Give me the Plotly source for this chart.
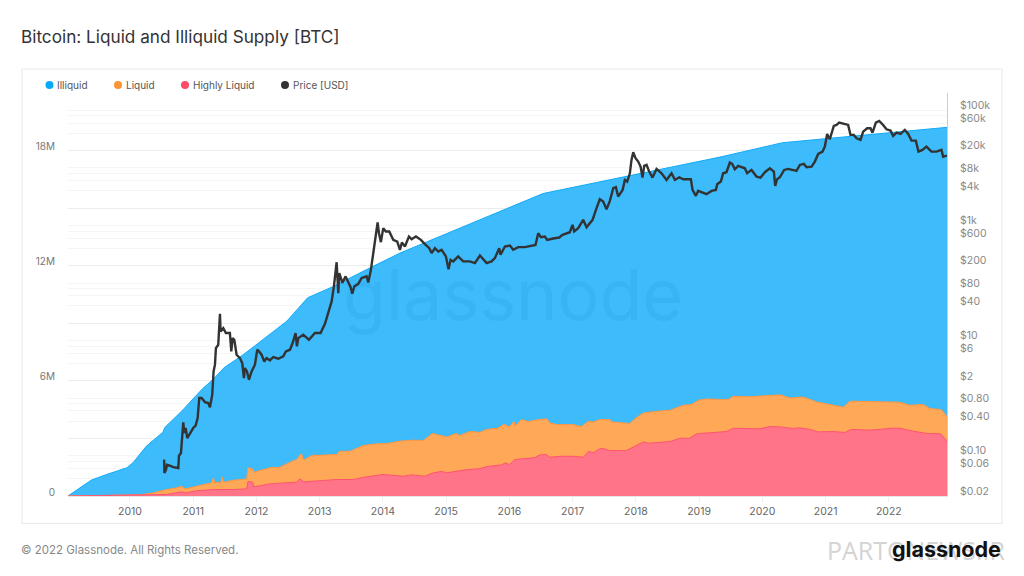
import numpy as np
import plotly.graph_objects as go

# levels on the left axis in millions of BTC, x in decimal years
illiquid_years = [2009.02, 2009.39, 2009.63, 2009.95, 2010.05, 2010.26, 2010.52, 2010.55, 2010.82, 2011.15, 2011.31,
                  2011.49, 2011.79, 2012.48, 2012.81, 2013.21, 2013.79, 2014.27, 2016.53, 2019.33, 2020.32, 2021.34, 2022.92]
illiquid_level = [0, 0.83, 1.12, 1.47, 1.74, 2.60, 3.32, 3.57, 4.43, 5.6, 6.06,
                  6.69, 7.36, 9.11, 10.33, 10.91, 11.88, 12.66, 15.76, 17.66, 18.41, 18.71, 19.21]

liquid_years = [2009.02, 2009.84, 2010.16, 2010.37, 2010.58, 2010.74, 2010.82, 2010.87, 2011.05, 2011.29, 2011.32, 2011.34,
                2011.44, 2011.455, 2011.48, 2011.63, 2011.845, 2011.866, 2011.94, 2011.96, 2012.21, 2012.37, 2012.53,
                2012.635, 2012.71, 2012.75, 2012.87, 2013.06, 2013.27, 2013.31, 2013.48, 2013.69, 2013.9, 2014.06, 2014.27,
                2014.48, 2014.64, 2014.78, 2014.93, 2015.01, 2015.165, 2015.21, 2015.375, 2015.53, 2015.65, 2015.82, 2015.91,
                2016.0, 2016.07, 2016.09, 2016.19, 2016.3, 2016.46, 2016.59, 2016.64, 2016.75, 2017.01, 2017.14, 2017.25,
                2017.325, 2017.43, 2017.59, 2017.615, 2017.905, 2018.0, 2018.12, 2018.35, 2018.54, 2018.75, 2018.88, 2018.99,
                2019.12, 2019.33, 2019.46, 2019.54, 2019.8, 2020.07, 2020.28, 2020.435, 2020.645, 2020.86, 2021.07, 2021.28,
                2021.385, 2021.75, 2022.17, 2022.33, 2022.54, 2022.65, 2022.83, 2022.9, 2022.92]
liquid_level = [0, 0.03, 0.06, 0.165, 0.34, 0.43, 0.51, 0.37, 0.51, 0.69, 0.95, 0.69,
                0.72, 1.0, 0.72, 0.82, 0.89, 1.47, 1.41, 1.24, 1.47, 1.5, 1.76,
                1.9, 2.21, 1.87, 2.11, 2.13, 2.16, 2.33, 2.33, 2.63, 2.72, 2.73, 2.86,
                2.91, 2.89, 3.26, 3.15, 3.08, 3.26, 3.15, 3.36, 3.32, 3.48, 3.53, 3.74,
                3.6, 3.9, 3.64, 3.98, 3.88, 3.98, 4.02, 3.81, 3.72, 3.72, 3.62, 3.9,
                3.85, 3.98, 3.98, 3.86, 3.78, 4.07, 4.33, 4.42, 4.47, 4.73, 4.77, 4.99,
                5.06, 5.03, 5.03, 5.2, 5.17, 5.23, 5.27, 5.11, 5.16, 4.9, 4.77, 4.63,
                4.94, 4.9, 4.89, 4.73, 4.77, 4.56, 4.5, 4.24, 4.1]

highly_years = [2009.02, 2010.37, 2010.58, 2010.82, 2010.87, 2011.05, 2011.32, 2011.63, 2011.845, 2011.866, 2011.94, 2011.96,
                2012.21, 2012.48, 2012.635, 2012.68, 2012.75, 2013.06, 2013.27, 2013.53, 2013.74, 2014.0, 2014.32, 2014.45,
                2014.66, 2014.8, 2014.93, 2015.01, 2015.27, 2015.53, 2015.67, 2015.88, 2015.93, 2016.0, 2016.09, 2016.4,
                2016.48, 2016.58, 2016.64, 2016.8, 2017.01, 2017.17, 2017.25, 2017.325, 2017.43, 2017.48, 2017.59, 2017.85,
                2017.96, 2018.12, 2018.2, 2018.54, 2018.7, 2018.85, 2018.96, 2019.33, 2019.43, 2019.54, 2019.96, 2020.12,
                2020.28, 2020.49, 2020.59, 2020.75, 2020.88, 2021.12, 2021.305, 2021.41, 2021.7, 2022.04, 2022.17, 2022.385,
                2022.6, 2022.82, 2022.9, 2022.92]
highly_level = [0, 0.04, 0.08, 0.22, 0.16, 0.27, 0.34, 0.34, 0.37, 0.75, 0.72, 0.48,
                0.63, 0.69, 0.72, 0.89, 0.74, 0.81, 0.86, 0.86, 1.0, 1.12, 1.03, 1.10,
                1.03, 1.21, 1.28, 1.21, 1.35, 1.43, 1.55, 1.62, 1.73, 1.64, 1.9, 2.0,
                2.14, 2.16, 2.02, 2.07, 2.07, 2.02, 2.33, 2.25, 2.46, 2.47, 2.37, 2.37,
                2.54, 2.82, 2.75, 2.84, 3.01, 3.01, 3.24, 3.36, 3.36, 3.53, 3.5, 3.62,
                3.6, 3.52, 3.55, 3.47, 3.34, 3.36, 3.31, 3.47, 3.43, 3.53, 3.53, 3.38,
                3.26, 3.24, 2.94, 2.8]

price_years = [2010.54, 2010.545, 2010.57, 2010.585, 2010.63, 2010.685, 2010.764, 2010.775, 2010.806, 2010.827, 2010.843,
               2010.859, 2010.88, 2010.906, 2010.943, 2011.0, 2011.038, 2011.07, 2011.096, 2011.133, 2011.186, 2011.238,
               2011.265, 2011.301, 2011.322, 2011.344, 2011.359, 2011.396, 2011.423, 2011.433, 2011.475, 2011.517, 2011.58,
               2011.602, 2011.623, 2011.65, 2011.686, 2011.739, 2011.776, 2011.802, 2011.818, 2011.85, 2011.881, 2011.923,
               2011.976, 2012.013, 2012.04, 2012.081, 2012.124, 2012.16, 2012.213, 2012.266, 2012.345, 2012.424, 2012.466,
               2012.53, 2012.572, 2012.619, 2012.64, 2012.661, 2012.74, 2012.83, 2012.925, 2013.014, 2013.083, 2013.11,
               2013.189, 2013.225, 2013.268, 2013.294, 2013.31, 2013.336, 2013.357, 2013.41, 2013.452, 2013.489, 2013.515,
               2013.547, 2013.61, 2013.663, 2013.742, 2013.768, 2013.81, 2013.847, 2013.884, 2013.916, 2013.937, 2013.968,
               2014.005, 2014.047, 2014.1, 2014.163, 2014.227, 2014.269, 2014.3, 2014.348, 2014.411, 2014.453, 2014.522,
               2014.6, 2014.664, 2014.733, 2014.77, 2014.822, 2014.875, 2014.928, 2014.996, 2015.038, 2015.07, 2015.112,
               2015.19, 2015.27, 2015.376, 2015.455, 2015.534, 2015.64, 2015.718, 2015.77, 2015.839, 2015.86, 2015.929,
               2016.008, 2016.06, 2016.14, 2016.245, 2016.377, 2016.413, 2016.456, 2016.498, 2016.561, 2016.598, 2016.693,
               2016.788, 2016.84, 2016.956, 2016.998, 2017.025, 2017.088, 2017.167, 2017.22, 2017.315, 2017.378, 2017.43,
               2017.483, 2017.536, 2017.589, 2017.642, 2017.684, 2017.72, 2017.79, 2017.826, 2017.863, 2017.905, 2017.931,
               2017.958, 2017.995, 2018.037, 2018.074, 2018.105, 2018.132, 2018.169, 2018.211, 2018.263, 2018.327, 2018.406,
               2018.485, 2018.564, 2018.617, 2018.685, 2018.748, 2018.87, 2018.896, 2018.949, 2018.985, 2019.065, 2019.117,
               2019.196, 2019.265, 2019.286, 2019.344, 2019.38, 2019.433, 2019.486, 2019.523, 2019.565, 2019.618, 2019.723,
               2019.76, 2019.829, 2019.908, 2019.971, 2020.04, 2020.119, 2020.182, 2020.203, 2020.234, 2020.277, 2020.345,
               2020.409, 2020.54, 2020.593, 2020.656, 2020.699, 2020.778, 2020.83, 2020.883, 2020.952, 2020.988, 2021.025,
               2021.067, 2021.13, 2021.173, 2021.215, 2021.278, 2021.357, 2021.394, 2021.447, 2021.489, 2021.552, 2021.594,
               2021.658, 2021.71, 2021.742, 2021.795, 2021.848, 2021.91, 2021.963, 2022.027, 2022.069, 2022.122, 2022.185,
               2022.253, 2022.306, 2022.359, 2022.427, 2022.469, 2022.532, 2022.595, 2022.674, 2022.753, 2022.832, 2022.859,
               2022.92]
price_usd = [0.070, 0.041, 0.047, 0.057, 0.055, 0.052, 0.050, 0.082, 0.091, 0.156, 0.311,
             0.203, 0.248, 0.166, 0.195, 0.248, 0.273, 0.371, 0.824, 0.824, 0.70, 0.674,
             0.568, 0.94, 2.39, 3.13, 6.08, 6.95, 24.0, 11.8, 13.5, 11.1, 11.1,
             5.32, 9.06, 8.49, 4.66, 4.07, 3.33, 1.83, 2.74, 2.39, 1.71, 2.39,
             3.13, 5.69, 5.32, 4.66, 3.56, 4.07, 3.72, 4.25, 3.97, 4.36, 5.32,
             5.69, 7.43, 11.1, 6.5, 9.06, 10.4, 8.49, 11.1, 11.1, 16.1, 20.2,
             39.4, 71.6, 189, 54.8, 122, 100, 82, 107, 87.5, 69.7, 53.4,
             71.6, 79.6, 100, 107, 84, 139, 272, 604, 925, 604, 422,
             738, 646, 646, 462, 432, 310, 416, 355, 528, 475, 528,
             462, 389, 331, 272, 331, 290, 310, 238, 143, 208, 195,
             238, 195, 195, 182, 247, 182, 195, 222, 331, 254, 354,
             368, 310, 345, 345, 364, 378, 604, 514, 528, 462, 488,
             507, 565, 628, 841, 646, 736, 1028, 767, 1028, 1641, 2350,
             2140, 1574, 2200, 3650, 3800, 2610, 3410, 5090, 4770, 6640, 11300,
             15400, 12100, 10600, 8660, 5580, 8900, 9270, 7100, 5580, 7900, 6640,
             5090, 6640, 5090, 5660, 5220, 5220, 3410, 2690, 3280, 2990, 2870,
             3280, 3410, 4280, 4770, 6640, 6920, 10200, 9640, 7800, 8900, 8110,
             6640, 7590, 5810, 5580, 6920, 8110, 7100, 4000, 5220, 5660, 7590,
             7900, 7300, 9270, 9660, 8450, 8670, 10600, 14400, 15800, 19300, 32000,
             25900, 44000, 45900, 50400, 47800, 45900, 30800, 30800, 26900, 25200, 35200,
             40200, 40200, 33700, 50400, 53800, 45900, 38500, 36600, 29600, 33700, 32000,
             37600, 32000, 24500, 24500, 15800, 16900, 19300, 15800, 15800, 16900, 12900,
             13500]

year_ticks = list(range(2010, 2023))
supply_labels = {0: "0", 6: "6M", 12: "12M", 18: "18M"}
price_ticks = [100000, 60000, 20000, 8000, 4000, 1000, 600, 200, 80, 40, 10, 6, 2, 0.8, 0.4, 0.1, 0.06, 0.02]
price_labels = ["$100k", "$60k", "$20k", "$8k", "$4k", "$1k", "$600", "$200", "$80", "$40", "$10", "$6", "$2",
                "$0.80", "$0.40", "$0.10", "$0.06", "$0.02"]

legend_names = ["Illiquid", "Liquid", "Highly Liquid", "Price [USD]"]
legend_colors = ["#09a9f9", "#ff9332", "#ff4a68", "#333333"]
legend_dots = [49.5, 118, 185, 285]

FONT = "Inter"
# window pixels; the page body adds an 8px margin on the top and left
L, R, T, B = 68, 947, 93, 496.5
PAGE = 8


def px(x):
    return (x - L) / (R - L)


def py(y):
    return (B - y) / (B - T)


fig = go.Figure()

fig.add_trace(go.Scatter(x=illiquid_years, y=illiquid_level, name="Illiquid", mode="lines",
                         line=dict(color="#12acfa", width=1), fill="tozeroy", fillcolor="#3dbbfb"))
fig.add_trace(go.Scatter(x=liquid_years, y=liquid_level, name="Liquid", mode="lines",
                         line=dict(color="#ff9640", width=1), fill="tozeroy", fillcolor="#ffa858"))
fig.add_trace(go.Scatter(x=highly_years, y=highly_level, name="Highly Liquid", mode="lines",
                         line=dict(color="#ff5570", width=1), fill="tozeroy", fillcolor="#ff7488"))
fig.add_trace(go.Scatter(x=price_years, y=price_usd, name="Price [USD]", mode="lines", yaxis="y2",
                         line=dict(color="#333333", width=2.4)))

# gridlines repeat every 3M with a log spacing in between
grid_major = [3 * k for k in range(0, 8)]
grid_minor = [3 * (k + np.log10(m)) for k in range(0, 7) for m in (2, 3, 4, 5)]

fig.update_layout(
    width=1024 - PAGE, height=576 - PAGE,
    margin=dict(l=L - PAGE, r=1024 - R, t=T - PAGE, b=576 - B),
    paper_bgcolor="white", plot_bgcolor="white",
    showlegend=False,
    font=dict(family=FONT, size=11, color="#777777"),
    title=dict(text="Bitcoin: Liquid and Illiquid Supply [BTC]", x=(21 - PAGE) / (1024 - PAGE),
               y=1 - (37 - PAGE) / (576 - PAGE), xanchor="left", yanchor="middle",
               font=dict(family=FONT, size=17.2, color="#333333")),
    xaxis=dict(range=[2009.02, 2022.92], tickvals=year_ticks, tickformat="d", showgrid=False, zeroline=False,
               ticks="outside", ticklen=5, tickcolor="#eeeeee", showline=True, linecolor="#e6e6e6",
               tickfont=dict(size=10.5, color="#666666")),
    yaxis=dict(range=[0, 21], tickvals=grid_major, ticktext=[supply_labels.get(v, "") for v in grid_major],
               showgrid=True, gridcolor="#ececec", gridwidth=1, zeroline=False, ticks="", ticklabelstandoff=12,
               ticklabelshift=-4,
               minor=dict(tickvals=grid_minor, showgrid=True, gridcolor="#f5f5f5", gridwidth=1, ticks=""),
               tickfont=dict(size=10, color="#777777")),
    yaxis2=dict(type="log", range=[-1.787, 5.217], overlaying="y", side="right", tickvals=price_ticks,
                ticktext=price_labels, showgrid=False, zeroline=False, showline=True, linecolor="#cccccc",
                ticks="", ticklabelstandoff=10, tickfont=dict(size=10.5, color="#888888")),
    shapes=[dict(type="rect", xref="paper", yref="paper", x0=px(22), x1=px(1002), y0=py(524), y1=py(69),
                 line=dict(color="#e8e8e8", width=1), layer="below")],
)

# legend row sits inside the card, dot then label
for name, color, dot in zip(legend_names, legend_colors, legend_dots):
    fig.add_shape(type="circle", xref="paper", yref="paper", x0=px(dot - 4), x1=px(dot + 4),
                  y0=py(89), y1=py(81), fillcolor=color, line=dict(width=0))
    fig.add_annotation(text=name, xref="paper", yref="paper", x=px(dot + 5.5), y=py(85), xanchor="left",
                       yanchor="middle", showarrow=False, font=dict(family=FONT, size=10, color="#555555"))

# watermark over the fill
fig.add_annotation(text="glassnode", xref="paper", yref="paper", x=px(513), y=py(295), showarrow=False,
                   font=dict(family=FONT, size=70, color="rgba(0,95,175,0.07)"))

fig.add_annotation(text="© 2022 Glassnode. All Rights Reserved.", xref="paper", yref="paper", x=px(19), y=py(551),
                   xanchor="left", yanchor="middle", showarrow=False, font=dict(family=FONT, size=11.5, color="#888888"))
fig.add_annotation(text="PARTONEWS.IR", xref="paper", yref="paper", x=px(1008), y=py(551),
                   xanchor="right", yanchor="middle", showarrow=False,
                   font=dict(family="Open Sans", size=25, color="#d4d4d4"))
fig.add_annotation(text="<b>glassnode</b>", xref="paper", yref="paper", x=px(1003), y=py(550),
                   xanchor="right", yanchor="middle", showarrow=False, font=dict(family=FONT, size=21.5, color="#111111"))

fig.write_html("out.html")
